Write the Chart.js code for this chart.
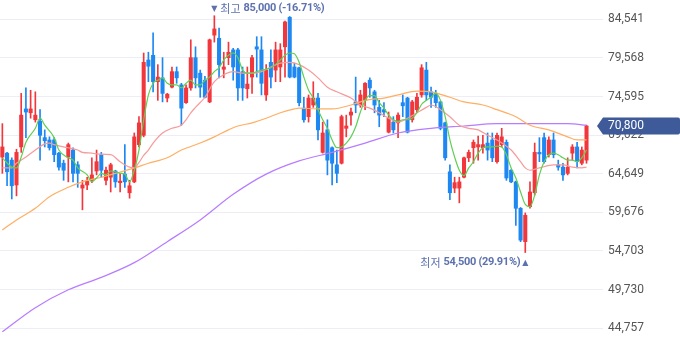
<!DOCTYPE html>
<html><head><meta charset="utf-8">
<script src="https://cdn.jsdelivr.net/npm/chart.js@4.4.1/dist/chart.umd.min.js"></script>
<style>html,body{margin:0;padding:0;background:#fff;}#wrap{width:680px;height:358px;}</style>
</head><body><div id="wrap"><canvas id="c" width="680" height="358"></canvas></div>
<script>
// ---- candle data (KRW) ----
const openP = [
66800,67300,66400,63200,68100,73000,72500,71600,71400,69300,
69000,69000,67300,66000,66800,67700,65800,62800,63200,63800,
65000,67100,63800,64200,65000,63500,64600,62200,63600,68400,
69600,79300,79900,76500,77000,74400,75800,77800,76100,73800,
75700,79600,77600,76700,73900,82500,82100,78100,79600,80600,
80600,77800,75600,77100,81000,80600,74800,79000,78000,78400,
81000,84800,78400,78300,73100,72000,73500,74400,67400,70300,
68000,65800,66000,70500,72200,73900,73500,74100,76700,75200,
73200,72900,70000,71300,71200,73800,74400,71600,72900,74800,
78000,75200,75000,73900,71200,64900,62800,62800,64200,66700,
68000,68100,68000,68600,69000,66200,68400,68700,65100,63600,
60200,55900,60400,62200,67400,69300,67100,69000,65800,65500,
64700,67300,68100,66000,66400];
const highP = [
71100,67400,66700,67800,75000,75700,75400,75200,72900,70300,
69400,69300,67400,66400,68600,68000,66200,63800,64200,66700,
67700,67400,65500,66000,65100,64700,68400,63800,69900,72000,
80200,80300,82800,78700,79600,75000,78400,78400,76300,76100,
81900,81000,78000,77200,82000,85000,83400,80300,81600,80800,
80800,78400,78400,79900,82300,82300,78700,80600,81600,81400,
84300,84900,78900,78400,74500,74800,76500,75000,71300,71600,
68100,67700,72200,72200,73100,77100,75400,76400,77000,75400,
74100,73800,72600,72000,72500,74800,74500,74100,75000,78700,
79000,75800,75400,74000,71300,65800,64200,64200,66800,67700,
69000,69500,69600,69900,69900,69900,70500,69000,65200,63700,
60300,59600,63600,68600,69300,69900,69400,69900,66400,66000,
66700,68400,68700,68100,70900];
const lowP = [
64700,63100,61400,61800,67400,69300,71800,71300,66400,68100,
67700,66200,65100,63800,63600,63600,62900,60000,62600,63500,
64500,64200,63200,62300,62900,62300,62900,61500,63500,68100,
69400,76500,75200,74100,73900,73900,75700,76300,70900,73700,
75400,75700,74500,74400,73800,81600,77000,77000,78700,76700,
74100,74100,74400,75000,77100,74800,74100,75700,76500,76500,
77100,77000,77000,73400,71300,71300,73200,69000,67300,64500,
63200,63500,65900,69400,70900,72500,73200,72900,74500,72500,
70700,72000,69900,69900,69300,72000,69900,71300,72500,74500,
74100,73200,73200,70300,66400,61300,62200,60900,64100,66200,
66000,66400,67300,66400,66200,66000,68100,63800,63500,58000,
55900,54500,60200,61900,66200,66000,66800,66700,65100,63800,
64500,66400,65400,65800,66000];
const closeP = [
68100,64900,63100,67400,72200,72600,73000,72200,69600,68900,
68000,67100,65500,65100,68400,64700,64700,63200,63700,64500,
66200,65100,65100,65800,63600,63700,63600,63100,69400,71200,
79000,78500,76500,77100,75000,74900,77800,77000,73100,75700,
79600,77000,75800,74500,81900,83300,78700,78400,80300,78400,
75700,75700,76200,79600,80700,76300,78000,77100,80600,80600,
84200,77100,77100,73800,71600,74400,74400,70300,69900,66400,
66000,64700,72000,70800,72600,73500,74800,76300,75700,73500,
72200,72600,71800,70300,72200,73400,70000,73900,74500,78300,
74800,74500,73800,70500,66700,62200,63500,63600,66700,67400,
68700,68400,68400,67700,66700,69600,69400,64100,63600,60200,
56100,59300,62300,67400,67200,66200,69000,67100,65500,64500,
65500,68100,66200,67700,70800];

// ---- moving averages at the listed trading days ----
const ma5Days = [1,3,4,5,6,8,9,10,12,13,15,16,17,19,20,21,22,23,24,25,26,27,28,29,30,31,32,33,34,35,36,37,38,39,40,41,42,43,44,45,46,47,48,49,50,51,52,53,54,55,56,57,58,59,60,61,62,63,64,65,66,67,68,69,70,71,72,73,74,75,76,77,78,79,80,81,82,83,84,85,86,87,88,89,90,91,92,93,94,95,96,97,98,99,100,101,102,103,104,105,106,107,108,109,110,111,112,113,114,115,116,117,118,119,120,121,122,123,124,125];
const ma5 = [66700,65500,65400,66800,68700,70500,71800,70900,69300,67700,66700,66400,65400,64500,63600,64100,64700,64500,65000,64900,64700,64600,63600,65100,67700,71600,74800,76300,76700,77000,76300,76100,76100,75700,76300,76700,76100,76100,76700,77100,77800,78300,79300,79900,80200,79600,78000,77600,77600,77800,78000,78100,78300,78700,79300,79900,80200,80100,79000,77100,75400,74400,72900,71600,70500,69000,68000,68100,68600,69400,70700,72600,74100,74700,74700,73800,73100,72200,71600,71400,71600,71600,71800,72500,73600,74100,74500,75000,74100,72000,69000,66800,65100,64400,65400,66200,67300,68000,68100,68100,68200,68100,67100,65400,64100,62300,60700,60400,61900,64500,66200,67100,67300,67100,66700,66400,66400,66200,66700,67700];
const ma20Days = [1,3,4,6,8,10,11,12,14,15,17,18,20,21,24,26,28,29,30,31,32,33,35,37,39,40,41,42,44,46,48,50,52,54,56,58,60,62,64,66,68,70,72,75,77,79,81,83,85,87,89,91,92,94,96,98,100,102,104,106,109,111,112,113,115,118,120,122,124,125];
const ma20 = [65400,65400,66000,66800,67700,68500,68600,68400,68100,68000,67700,67400,67300,67200,67100,66200,65500,65400,66100,67000,67700,68600,69900,70500,70900,71600,72500,73200,74500,76500,77400,77800,77600,77600,77800,78400,78900,79000,78700,78000,77000,75800,75200,74400,73500,73100,72500,71800,71300,71800,72500,73200,73500,72900,72000,70900,70500,70300,69600,69000,67700,66200,65400,65100,65400,65800,65800,65500,65400,65500];
const ma60Days = [1,4,8,11,15,18,22,25,29,32,36,39,43,46,49,51,54,57,60,63,64,68,71,75,78,82,85,89,92,96,99,103,106,110,113,117,121,123,125];
const ma60 = [57400,58700,60200,61700,62900,63600,64200,64700,65400,66000,66700,67700,68600,69400,70300,70800,71200,71800,72500,73000,73100,73000,73000,73500,74100,74400,74800,75300,75200,74500,73900,73500,72900,72000,70900,70300,69400,69000,69000];
const ma120Days = [1,8,15,22,29,36,43,50,57,64,71,78,85,92,99,106,113,121,125];
const ma120 = [44300,47400,49700,51300,53200,55900,58700,62000,64600,66300,67400,68600,69900,70500,70800,71100,71100,71100,70900];

const yTicks = [44757,49730,54703,59676,64649,69622,74595,79568,84541];

const N = closeP.length;
const days = Array.from({length: N}, (_, i) => String(i + 1));
const labels = days.concat([' ', '  ', '   ']);

const UP = '#f2373c', DOWN = '#1d87f2';
const candleColor = closeP.map((c, i) => c >= openP[i] ? UP : DOWN);
const pts = (d, v) => d.map((day, i) => ({x: days[day - 1], y: v[i]}));
const lineDs = (d, v, color) => ({
  type: 'line', data: pts(d, v), borderColor: color, borderWidth: 1.2,
  pointRadius: 0, spanGaps: true, cubicInterpolationMode: 'monotone', order: 1, clip: false
});

const fmt = v => Math.round(v).toLocaleString('en-US');

const overlay = {
  id: 'overlay',
  afterDraw(chart) {
    const ctx = chart.ctx, xs = chart.scales.x, ys = chart.scales.y, ca = chart.chartArea;
    const last = closeP[N - 1];
    const hi = Math.max(...highP), hiI = highP.indexOf(hi);
    const lo = Math.min(...lowP), loI = lowP.indexOf(lo);
    const col = '#5c71ae';
    ctx.save();
    ctx.textBaseline = 'middle';
    // highest
    let xh = xs.getPixelForValue(hiI), yh = ys.getPixelForValue(hi) - 7;
    ctx.fillStyle = col;
    ctx.font = '8px "DejaVu Sans"'; ctx.textAlign = 'center';
    ctx.fillText('▼', xh, yh);
    ctx.textAlign = 'left';
    let x = xh + 6;
    ctx.font = '11px "Noto Sans CJK KR"';
    ctx.fillText('최고', x, yh);
    x += ctx.measureText('최고').width + 3;
    ctx.font = 'bold 11px Roboto';
    ctx.letterSpacing = '-0.3px';
    ctx.fillText(fmt(hi) + ' (' + ((last - hi) / hi * 100).toFixed(2) + '%)', x, yh);
    ctx.letterSpacing = '0px';
    // lowest
    let xl = xs.getPixelForValue(loI), yl = ys.getPixelForValue(lo) + 10;
    ctx.font = '8px "DejaVu Sans"'; ctx.textAlign = 'center';
    ctx.fillText('▲', xl, yl);
    ctx.textAlign = 'right';
    ctx.font = 'bold 11px Roboto';
    ctx.letterSpacing = '-0.3px';
    const t2 = fmt(lo) + ' (' + ((last - lo) / lo * 100).toFixed(2) + '%)';
    let xr = xl - 5;
    ctx.fillText(t2, xr, yl);
    const w2 = ctx.measureText(t2).width;
    ctx.letterSpacing = '0px';
    ctx.font = '11px "Noto Sans CJK KR"';
    ctx.fillText('최저', xr - w2 - 3, yl);
    // current price tag
    const yc = ys.getPixelForValue(last);
    const L = ca.right - 6, R = 680, hh = 8.5, r = 2;
    ctx.fillStyle = '#3f5a98';
    ctx.beginPath();
    ctx.moveTo(L, yc);
    ctx.lineTo(L + 6, yc - hh);
    ctx.lineTo(R - r, yc - hh);
    ctx.quadraticCurveTo(R, yc - hh, R, yc - hh + r);
    ctx.lineTo(R, yc + hh - r);
    ctx.quadraticCurveTo(R, yc + hh, R - r, yc + hh);
    ctx.lineTo(L + 6, yc + hh);
    ctx.closePath();
    ctx.fill();
    ctx.fillStyle = '#ffffff';
    ctx.textAlign = 'left';
    ctx.font = '12px Roboto';
    ctx.fillText(fmt(last), ca.right + 5, yc + 0.5);
    ctx.restore();
  }
};

new Chart(document.getElementById('c'), {
  data: {
    labels: labels,
    datasets: [
      lineDs(ma5Days, ma5, '#5fcf55'),
      lineDs(ma20Days, ma20, '#f79a9a'),
      lineDs(ma60Days, ma60, '#ffae63'),
      lineDs(ma120Days, ma120, '#b77cff'),
      { type: 'bar', data: openP.map((o, i) => [o, closeP[i]]), backgroundColor: candleColor,
        barThickness: 3.4, minBarLength: 1, grouped: false, order: 2, borderWidth: 0 },
      { type: 'bar', data: lowP.map((l, i) => [l, highP[i]]), backgroundColor: candleColor,
        barThickness: 1, grouped: false, order: 3, borderWidth: 0 }
    ]
  },
  options: {
    responsive: false, animation: false, devicePixelRatio: 1,
    layout: { padding: 0 },
    plugins: { legend: { display: false }, tooltip: { enabled: false } },
    scales: {
      x: { type: 'category', display: false, offset: true, grid: { display: false } },
      y: {
        position: 'right', min: 40916, max: 87027,
        afterBuildTicks: s => { s.ticks = yTicks.map(v => ({ value: v })); },
        afterFit: s => { s.width = 77; s.paddingTop = 0; s.paddingBottom = 0; },
        grid: { color: '#ededf5', drawTicks: false, lineWidth: 1 },
        border: { display: false },
        ticks: { padding: 5, color: '#555', font: { family: 'Roboto', size: 12 },
          autoSkip: false, callback: v => fmt(v) }
      }
    }
  },
  plugins: [overlay]
});
</script></body></html>
